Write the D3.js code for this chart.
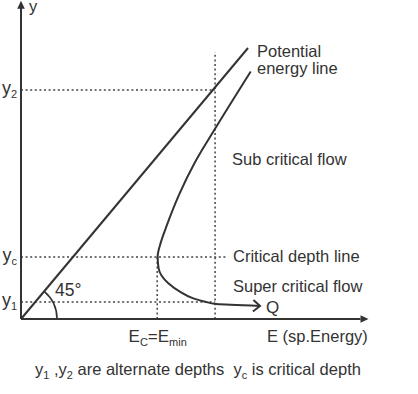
<!DOCTYPE html>
<html>
<head>
<meta charset="utf-8">
<script src="https://cdn.jsdelivr.net/npm/d3@7"></script>
<style>
  body { margin: 0; background: #fff; }
  text { font-family: "Liberation Sans", Arial, sans-serif; fill: #333; white-space: pre; }
</style>
</head>
<body>
<div id="chart"></div>
<script>
// depths on the y axis (same units as energy, so y = E is the 45 deg line)
const yTickValues = [0.63, 2.29, 8.45];
const yTickSubs = ['1', 'c', '2'];
const energyCritical = 6.0;    // E_c = E_min
const energyAlt = 8.55;        // vertical through y1 / y2
const energyAltTop = 9.85;

// specific energy curve [E, y]
const curveE = [10.12, 8.61, 7.67, 6.96, 6.43, 6.15, 6.02, 6.06, 6.49, 7.00, 7.59, 8.11, 8.62, 10.53];
const curveY = [9.13, 7.10, 5.79, 4.58, 3.47, 2.80, 2.30, 1.88, 1.32, 1.01, 0.76, 0.64, 0.55, 0.48];

// potential energy line y = E
const potentialE = [0, 10];

const width = 418, height = 394;
const origin = { x: 21, y: 319 };

const svg = d3.select('#chart')
  .append('svg')
  .attr('width', width)
  .attr('height', height);

const x = d3.scaleLinear().domain([0, 15]).range([origin.x, origin.x + 15 * 22.7]);
const y = d3.scaleLinear().domain([0, 11.6]).range([origin.y, origin.y - 11.6 * 27.1]);

const ink = '#333';

// dotted guide lines
const dots = svg.append('g')
  .attr('stroke', '#444')
  .attr('stroke-width', 1.5)
  .attr('stroke-dasharray', '2,2.6')
  .attr('fill', 'none');

// horizontal: y1, yc, y2
const hEnds = [energyAlt, 9.1, energyAlt];
yTickValues.forEach((v, i) => {
  dots.append('line')
    .attr('x1', x(0)).attr('x2', x(hEnds[i]))
    .attr('y1', y(v)).attr('y2', y(v));
});
// vertical at E_c and at the alternate energy
dots.append('line')
  .attr('x1', x(energyCritical)).attr('x2', x(energyCritical))
  .attr('y1', y(0)).attr('y2', y(yTickValues[1]));
dots.append('line')
  .attr('x1', x(energyAlt)).attr('x2', x(energyAlt))
  .attr('y1', y(0)).attr('y2', y(energyAltTop));

// axes lines with arrows
svg.append('line')
  .attr('x1', x(0)).attr('y1', y(0))
  .attr('x2', x(0)).attr('y2', y(11.6) + 3)
  .attr('stroke', ink).attr('stroke-width', 2);
svg.append('path')
  .attr('d', `M${x(0)},${y(11.6) - 4}l-3.8,8h7.6z`)
  .attr('fill', ink);
svg.append('line')
  .attr('x1', x(0)).attr('y1', y(0))
  .attr('x2', x(15) - 1).attr('y2', y(0))
  .attr('stroke', ink).attr('stroke-width', 2);
svg.append('path')
  .attr('d', `M${x(15) + 7},${y(0)}l-8,-3.8v7.6z`)
  .attr('fill', ink);

// tick labels via d3 axes
const yAxis = svg.append('g')
  .attr('transform', `translate(${x(0)},0)`)
  .call(d3.axisLeft(y).tickValues(yTickValues).tickSize(0).tickPadding(4).tickFormat(() => ''));
yAxis.select('.domain').remove();
yAxis.selectAll('.tick text')
  .attr('dy', '0.2em')
  .style('font-size', '18px')
  .style('font-family', null)
  .each(function (d, i) {
    const t = d3.select(this);
    t.append('tspan').text('y');
    t.append('tspan').attr('dy', 4).style('font-size', '11px').text(yTickSubs[i]);
  });

const xAxis = svg.append('g')
  .attr('transform', `translate(0,${y(0)})`)
  .call(d3.axisBottom(x).tickValues([energyCritical]).tickSize(0).tickPadding(11).tickFormat(() => ''));
xAxis.select('.domain').remove();
xAxis.selectAll('.tick text')
  .style('font-size', '17px')
  .style('font-family', null)
  .each(function () {
    const t = d3.select(this);
    t.append('tspan').text('E');
    t.append('tspan').attr('dy', 4).style('font-size', '11px').text('C');
    t.append('tspan').attr('dy', -4).text('=E');
    t.append('tspan').attr('dy', 4).style('font-size', '11px').text('min');
  });

// potential energy line (45 deg)
svg.append('line')
  .attr('x1', x(potentialE[0])).attr('y1', y(potentialE[0]))
  .attr('x2', x(potentialE[1])).attr('y2', y(potentialE[1]))
  .attr('stroke', ink).attr('stroke-width', 2);

// 45 deg arc
const ang = Math.atan2(y(0) - y(1), x(1) - x(0));
const arcR = 36;
const arcPath = d3.path();
arcPath.moveTo(x(0) + arcR, y(0));
arcPath.arc(x(0), y(0), arcR, 0, -ang, true);
svg.append('path')
  .attr('d', arcPath.toString())
  .attr('fill', 'none')
  .attr('stroke', ink)
  .attr('stroke-width', 1.6);

// specific energy curve
const curveData = curveE.map((e, i) => [e, curveY[i]]);
const line = d3.line()
  .x(d => x(d[0]))
  .y(d => y(d[1]))
  .curve(d3.curveMonotoneY);

svg.append('path')
  .datum(curveData)
  .attr('fill', 'none')
  .attr('stroke', ink)
  .attr('stroke-width', 2)
  .attr('d', line);

// open arrow at the end of the curve
const last = curveData[curveData.length - 1];
const prev = curveData[curveData.length - 2];
const a = Math.atan2(y(last[1]) - y(prev[1]), x(last[0]) - x(prev[0]));
const tipX = x(last[0]), tipY = y(last[1]);
const arm = 9;
svg.append('path')
  .attr('d', `M${tipX - arm * Math.cos(a - 0.7)},${tipY - arm * Math.sin(a - 0.7)}L${tipX},${tipY}L${tipX - arm * Math.cos(a + 0.7)},${tipY - arm * Math.sin(a + 0.7)}`)
  .attr('fill', 'none')
  .attr('stroke', ink)
  .attr('stroke-width', 2);

// labels
const labels = svg.append('g').style('font-size', '16.5px');
labels.append('text').attr('x', 29).attr('y', 12).style('font-size', '16.5px').text('y');
labels.append('text').attr('x', 257).attr('y', 57).text('Potential');
labels.append('text').attr('x', 257).attr('y', 74).text('energy line');
labels.append('text').attr('x', 232).attr('y', 165).text('Sub critical flow');
labels.append('text').attr('x', 233).attr('y', 262).text('Critical depth line');
labels.append('text').attr('x', 233).attr('y', 292).text('Super critical flow');
labels.append('text').attr('x', 266).attr('y', 313).style('font-size', '17px').text('Q');
labels.append('text').attr('x', 55).attr('y', 296).style('font-size', '17.5px').text('45°');
labels.append('text').attr('x', 267).attr('y', 342).style('font-size', '16.5px').text('E (sp.Energy)');

const note = labels.append('text').attr('x', 35).attr('y', 375);
note.append('tspan').text('y');
note.append('tspan').attr('dy', 4).style('font-size', '11px').text('1');
note.append('tspan').attr('dy', -4).text(' ,y');
note.append('tspan').attr('dy', 4).style('font-size', '11px').text('2');
note.append('tspan').attr('dy', -4).text(' are alternate depths  y');
note.append('tspan').attr('dy', 4).style('font-size', '11px').text('c');
note.append('tspan').attr('dy', -4).text(' is critical depth');
</script>
</body>
</html>
